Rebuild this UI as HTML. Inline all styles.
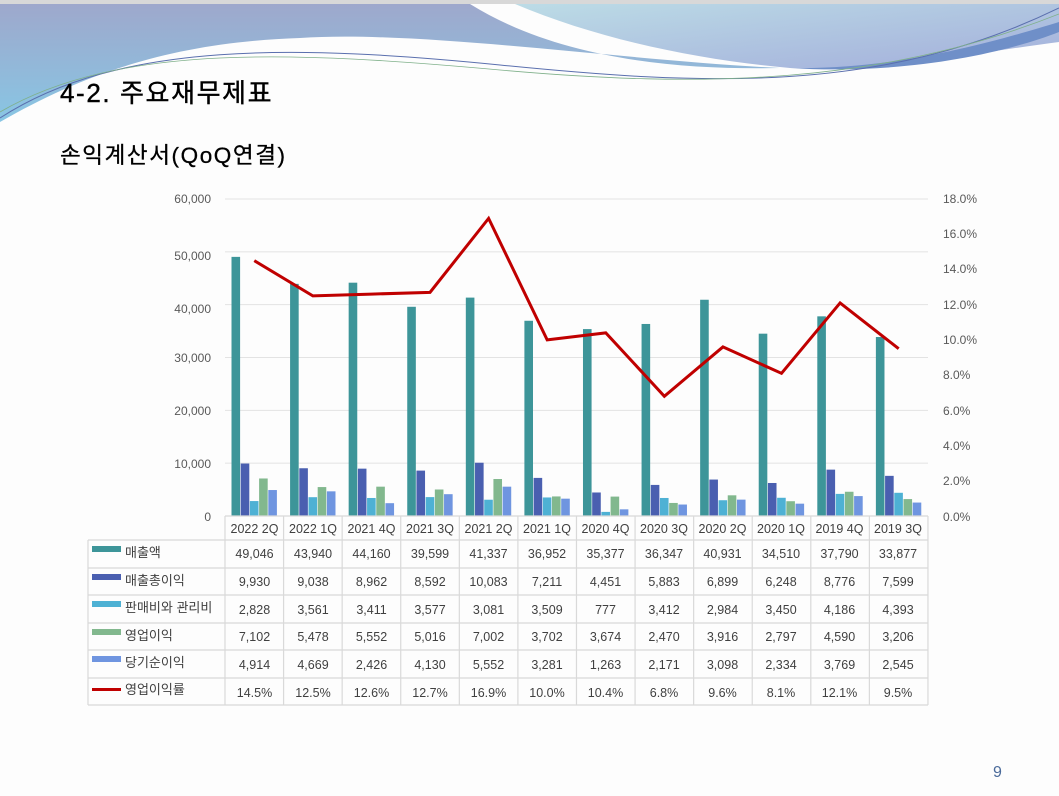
<!DOCTYPE html>
<html><head><meta charset="utf-8">
<style>
body{margin:0;background:#fff;}
#w{position:relative;width:1059px;height:796px;overflow:hidden;background:#fdfdfd;font-family:"Liberation Sans","Noto Sans CJK KR",sans-serif;}
svg{position:absolute;left:0;top:0;}
</style></head><body><div id="w">
<svg id="s" width="1059" height="796" xmlns="http://www.w3.org/2000/svg" font-family="Liberation Sans, Noto Sans CJK KR, sans-serif">
<defs>
<linearGradient id="g1" x1="0" y1="0" x2="0" y2="1"><stop offset="0" stop-color="#9ea8cc"/><stop offset="1" stop-color="#88c6e4"/></linearGradient>
<linearGradient id="g2" x1="0" y1="0" x2="1" y2="1"><stop offset="0" stop-color="#bcdce6"/><stop offset="1" stop-color="#a3aedb"/></linearGradient>
</defs>
<rect x="0" y="0" width="1059" height="4" fill="#d8d8d8"/>
<path d="M0,4 L470,4 C560,60 680,70 780,68 C620,60 420,30 300,38 C180,42 90,70 0,122 Z" fill="url(#g1)"/>
<path d="M515,4 L1059,4 L1059,42 C980,52 880,72 790,68 C700,60 600,40 515,4 Z" fill="url(#g2)"/>
<path d="M790,68 C900,70 1000,40 1059,22 L1059,32 C1000,55 900,75 790,68Z" fill="#6f8fc8"/>
<path d="M0,118 C120,40 300,45 500,65 C700,85 880,95 1059,8" fill="none" stroke="#5a6fae" stroke-width="1"/>
<path d="M0,112 C120,42 300,52 500,70 C700,88 880,85 1059,14" fill="none" stroke="#7fb08a" stroke-width="0.8"/>
<text x="60" y="102" font-size="26" letter-spacing="1.6" fill="#000" stroke="#000" stroke-width="0.4">4-2. 주요재무제표</text>
<text x="60" y="163" font-size="22.5" letter-spacing="1.6" fill="#000" stroke="#000" stroke-width="0.3">손익계산서(QoQ연결)</text>
<g id="grid" stroke="#e3e3e3" stroke-width="1"></g>
<g id="bars"></g>
<polyline id="line" fill="none" stroke="#c00000" stroke-width="3" stroke-linejoin="miter"/>
<g font-size="12" fill="#595959" text-anchor="end">
<text x="211" y="203">60,000</text><text x="211" y="260">50,000</text><text x="211" y="313">40,000</text><text x="211" y="362">30,000</text><text x="211" y="415">20,000</text><text x="211" y="468">10,000</text><text x="211" y="521">0</text>
</g>
<g font-size="12" fill="#595959">
<text x="943" y="203">18.0%</text><text x="943" y="238">16.0%</text><text x="943" y="273">14.0%</text><text x="943" y="309">12.0%</text><text x="943" y="344">10.0%</text><text x="943" y="379">8.0%</text><text x="943" y="415">6.0%</text><text x="943" y="450">4.0%</text><text x="943" y="485">2.0%</text><text x="943" y="521">0.0%</text>
</g>
<g id="tbl" stroke="#d9d9d9" stroke-width="1.2"></g>
<g font-size="12.5" fill="#404040" text-anchor="middle">
<text x="254.5" y="533">2022 2Q</text><text x="313" y="533">2022 1Q</text><text x="371.5" y="533">2021 4Q</text><text x="430" y="533">2021 3Q</text><text x="488.5" y="533">2021 2Q</text><text x="547" y="533">2021 1Q</text><text x="605.5" y="533">2020 4Q</text><text x="664" y="533">2020 3Q</text><text x="722.5" y="533">2020 2Q</text><text x="781" y="533">2020 1Q</text><text x="839.5" y="533">2019 4Q</text><text x="898" y="533">2019 3Q</text>
</g>
<g font-size="12.5" fill="#404040" text-anchor="middle">
<text y="558"><tspan x="254.5">49,046</tspan><tspan x="313">43,940</tspan><tspan x="371.5">44,160</tspan><tspan x="430">39,599</tspan><tspan x="488.5">41,337</tspan><tspan x="547">36,952</tspan><tspan x="605.5">35,377</tspan><tspan x="664">36,347</tspan><tspan x="722.5">40,931</tspan><tspan x="781">34,510</tspan><tspan x="839.5">37,790</tspan><tspan x="898">33,877</tspan></text>
<text y="586"><tspan x="254.5">9,930</tspan><tspan x="313">9,038</tspan><tspan x="371.5">8,962</tspan><tspan x="430">8,592</tspan><tspan x="488.5">10,083</tspan><tspan x="547">7,211</tspan><tspan x="605.5">4,451</tspan><tspan x="664">5,883</tspan><tspan x="722.5">6,899</tspan><tspan x="781">6,248</tspan><tspan x="839.5">8,776</tspan><tspan x="898">7,599</tspan></text>
<text y="614"><tspan x="254.5">2,828</tspan><tspan x="313">3,561</tspan><tspan x="371.5">3,411</tspan><tspan x="430">3,577</tspan><tspan x="488.5">3,081</tspan><tspan x="547">3,509</tspan><tspan x="605.5">777</tspan><tspan x="664">3,412</tspan><tspan x="722.5">2,984</tspan><tspan x="781">3,450</tspan><tspan x="839.5">4,186</tspan><tspan x="898">4,393</tspan></text>
<text y="641"><tspan x="254.5">7,102</tspan><tspan x="313">5,478</tspan><tspan x="371.5">5,552</tspan><tspan x="430">5,016</tspan><tspan x="488.5">7,002</tspan><tspan x="547">3,702</tspan><tspan x="605.5">3,674</tspan><tspan x="664">2,470</tspan><tspan x="722.5">3,916</tspan><tspan x="781">2,797</tspan><tspan x="839.5">4,590</tspan><tspan x="898">3,206</tspan></text>
<text y="669"><tspan x="254.5">4,914</tspan><tspan x="313">4,669</tspan><tspan x="371.5">2,426</tspan><tspan x="430">4,130</tspan><tspan x="488.5">5,552</tspan><tspan x="547">3,281</tspan><tspan x="605.5">1,263</tspan><tspan x="664">2,171</tspan><tspan x="722.5">3,098</tspan><tspan x="781">2,334</tspan><tspan x="839.5">3,769</tspan><tspan x="898">2,545</tspan></text>
<text y="697"><tspan x="254.5">14.5%</tspan><tspan x="313">12.5%</tspan><tspan x="371.5">12.6%</tspan><tspan x="430">12.7%</tspan><tspan x="488.5">16.9%</tspan><tspan x="547">10.0%</tspan><tspan x="605.5">10.4%</tspan><tspan x="664">6.8%</tspan><tspan x="722.5">9.6%</tspan><tspan x="781">8.1%</tspan><tspan x="839.5">12.1%</tspan><tspan x="898">9.5%</tspan></text>
</g>
<g font-size="13" fill="#404040">
<rect x="92" y="546" width="29" height="6" fill="#3d9599"/><text x="125" y="557">매출액</text>
<rect x="92" y="574" width="29" height="6" fill="#4a5fb0"/><text x="125" y="585">매출총이익</text>
<rect x="92" y="601" width="29" height="6" fill="#4eb1d4"/><text x="125" y="612">판매비와 관리비</text>
<rect x="92" y="629" width="29" height="6" fill="#82b88e"/><text x="125" y="640">영업이익</text>
<rect x="92" y="656" width="29" height="6" fill="#6f95e0"/><text x="125" y="667">당기순이익</text>
<rect x="92" y="688" width="29" height="3" fill="#c00000"/><text x="125" y="694">영업이익률</text>
</g>
<text x="993" y="777" font-size="16" fill="#4a6a9a">9</text>
</svg>
<script>
var ns="http://www.w3.org/2000/svg";
function el(t,a,p){var e=document.createElementNS(ns,t);for(var k in a)e.setAttribute(k,a[k]);p.appendChild(e);return e;}
var d=[[49046,43940,44160,39599,41337,36952,35377,36347,40931,34510,37790,33877],
[9930,9038,8962,8592,10083,7211,4451,5883,6899,6248,8776,7599],
[2828,3561,3411,3577,3081,3509,777,3412,2984,3450,4186,4393],
[7102,5478,5552,5016,7002,3702,3674,2470,3916,2797,4590,3206],
[4914,4669,2426,4130,5552,3281,1263,2171,3098,2334,3769,2545]];
var r=[14.5,12.5,12.6,12.7,16.9,10.0,10.4,6.8,9.6,8.1,12.1,9.5];
var c=["#3d9599","#4a5fb0","#4eb1d4","#82b88e","#6f95e0"];
var x0=225,cw=58.58,y0=516,H=317;
var g=document.getElementById("grid");
for(var i=1;i<=6;i++){var y=y0-i*H/6;el("line",{x1:225,x2:928,y1:y,y2:y},g);}
var b=document.getElementById("bars");
for(var k=0;k<12;k++){for(var s=0;s<5;s++){var h=d[s][k]/60000*H;el("rect",{x:x0+k*cw+6.5+s*9.2,y:y0-h,width:8.6,height:h,fill:c[s]},b);}}
var pts=[];for(var k=0;k<12;k++){pts.push((x0+k*cw+cw/2)+","+(y0-r[k]/18*H));}
document.getElementById("line").setAttribute("points",pts.join(" "));
var t=document.getElementById("tbl");
el("line",{x1:225,x2:928,y1:516,y2:516},t);
var rows=[540,568,595,623,650,678,705];
rows.forEach(function(y){el("line",{x1:88,x2:928,y1:y,y2:y},t);});
el("line",{x1:88,x2:88,y1:540,y2:705},t);
for(var k=0;k<=12;k++){var x=x0+k*cw;el("line",{x1:x,x2:x,y1:516,y2:705},t);}
</script>
</div></body></html>
